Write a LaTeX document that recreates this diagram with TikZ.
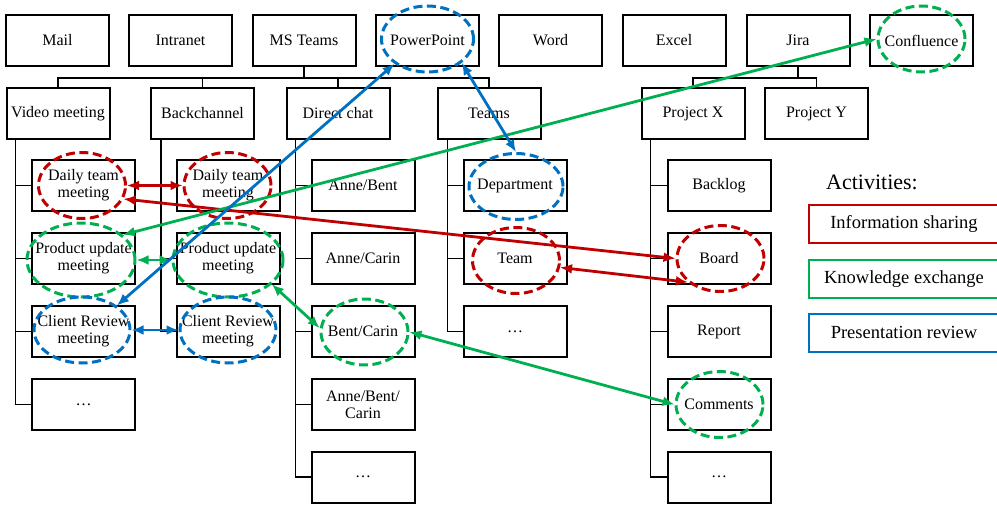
\documentclass[tikz,border=0pt]{standalone}
\usepackage{fontspec}
\setmainfont{Liberation Serif}
\usetikzlibrary{arrows.meta,shapes.geometric}
\definecolor{infored}{RGB}{192,0,0}
\definecolor{knowgreen}{RGB}{0,176,80}
\definecolor{presblue}{RGB}{0,112,192}
\tikzset{
  tool/.style={draw=black, line width=2pt, minimum width=103pt, minimum height=51pt,
    inner sep=1pt, align=center, font=\fontsize{16}{17}\selectfont},
  spot/.style={ellipse, draw=#1, dash pattern=on 9pt off 4.5pt, line width=3pt,
    minimum width=87pt, minimum height=66pt, inner sep=0pt},
  link/.style={draw=#1, line width=2.8pt,
    {Latex[length=12pt,width=10pt]}-{Latex[length=12pt,width=10pt]}},
  branch/.style={line width=1.5pt},
  actbox/.style={draw=#1, line width=2pt, minimum width=190pt, minimum height=38pt,
    font=\fontsize{18.5}{20}\selectfont},
}
\begin{document}
\begin{tikzpicture}[x=1pt,y=-1pt]
\useasboundingbox (0,0) rectangle (997,506);
% tools
\node[tool] (mail) at (57.5,40.5) {Mail};
\node[tool] (intranet) at (180.5,40.5) {Intranet};
\node[tool] (msteams) at (304,40.5) {MS Teams};
\node[tool] (ppt) at (427.5,40.5) {PowerPoint};
\node[tool] (word) at (550.5,40.5) {Word};
\node[tool] (excel) at (674,40.5) {Excel};
\node[tool] (jira) at (798,40.5) {Jira};
\node[tool] (confl) at (921.5,40.5) {Confluence};
% channels
\node[tool] (video) at (58,113.5) {Video meeting};
\node[tool] (back) at (202.5,113.5) {Backchannel};
\node[tool] (direct) at (338,113.5) {Direct chat};
\node[tool] (teams) at (489,113.5) {Teams};
\node[tool] (projx) at (693,113.5) {Project X};
\node[tool] (projy) at (816.5,113.5) {Project Y};
% video meeting
\node[tool] (vdaily) at (83.5,185.5) {Daily team\\meeting};
\node[tool] (vprod) at (83.5,258.5) {Product update\\meeting};
\node[tool] (vclient) at (83.5,331.5) {Client Review\\meeting};
\node[tool] (vmore) at (83.5,404.5) {\ldots};
% backchannel
\node[tool] (bdaily) at (228,185.5) {Daily team\\meeting};
\node[tool] (bprod) at (228,258.5) {Product update\\meeting};
\node[tool] (bclient) at (228,331.5) {Client Review\\meeting};
% direct chat
\node[tool] (ab) at (363,185.5) {Anne/Bent};
\node[tool] (ac) at (363,258.5) {Anne/Carin};
\node[tool] (bc) at (363,331.5) {Bent/Carin};
\node[tool] (abc) at (363,404.5) {Anne/Bent/\\Carin};
\node[tool] (dmore) at (363,477) {\ldots};
% teams
\node[tool] (dept) at (515,185.5) {Department};
\node[tool] (team) at (515,258.5) {Team};
\node[tool] (tmore) at (515,331.5) {\ldots};
% project x
\node[tool] (backlog) at (719,185.5) {Backlog};
\node[tool] (board) at (719,258.5) {Board};
\node[tool] (report) at (719,331.5) {Report};
\node[tool] (comments) at (719,404.5) {Comments};
\node[tool] (xmore) at (719,477) {\ldots};
% hierarchy
\draw[branch] (msteams.south) -- +(0,11) -| (video.north)
    (msteams.south) -- +(0,11) -| (back.north)
    (msteams.south) -- +(0,11) -| (direct.north)
    (msteams.south) -- +(0,11) -| (teams.north);
\draw[branch] (jira.south) -- +(0,11) -| (projx.north)
    (jira.south) -- +(0,11) -| (projy.north);
\draw[branch] ([xshift=10pt]video.south west) |- (vdaily.west)
    ([xshift=10pt]video.south west) |- (vprod.west)
    ([xshift=10pt]video.south west) |- (vclient.west)
    ([xshift=10pt]video.south west) |- (vmore.west);
\draw[branch] ([xshift=11pt]back.south west) |- (bdaily.west)
    ([xshift=11pt]back.south west) |- (bprod.west)
    ([xshift=11pt]back.south west) |- (bclient.west);
\draw[branch] ([xshift=10pt]direct.south west) |- (ab.west)
    ([xshift=10pt]direct.south west) |- (ac.west)
    ([xshift=10pt]direct.south west) |- (bc.west)
    ([xshift=10pt]direct.south west) |- (abc.west)
    ([xshift=10pt]direct.south west) |- (dmore.west);
\draw[branch] ([xshift=11pt]teams.south west) |- (dept.west)
    ([xshift=11pt]teams.south west) |- (team.west)
    ([xshift=11pt]teams.south west) |- (tmore.west);
\draw[branch] ([xshift=10pt]projx.south west) |- (backlog.west)
    ([xshift=10pt]projx.south west) |- (board.west)
    ([xshift=10pt]projx.south west) |- (report.west)
    ([xshift=10pt]projx.south west) |- (comments.west)
    ([xshift=10pt]projx.south west) |- (xmore.west);
% activity marks
\node[spot=presblue, minimum width=92pt] (s-ppt) at (427.5,39) {};
\node[spot=knowgreen] (s-confl) at (921.5,39) {};
\node[spot=infored] (s-vdaily) at (82,185.5) {};
\node[spot=infored] (s-bdaily) at (227.5,185.5) {};
\node[spot=knowgreen, minimum width=108pt, minimum height=74pt] (s-vprod) at (81,260) {};
\node[spot=knowgreen, minimum width=110pt, minimum height=74pt] (s-bprod) at (228,260) {};
\node[spot=presblue, minimum width=96pt] (s-vclient) at (82,330) {};
\node[spot=presblue, minimum width=96pt] (s-bclient) at (228,330) {};
\node[spot=presblue, minimum width=94pt] (s-dept) at (516,186.5) {};
\node[spot=infored] (s-team) at (516,260.5) {};
\node[spot=knowgreen] (s-bc) at (364.5,332) {};
\node[spot=infored] (s-board) at (720.5,258.5) {};
\node[spot=knowgreen] (s-comments) at (719.5,404.5) {};
% links
\draw[link=infored] (s-vdaily.east) -- (s-bdaily.west);
\draw[link=infored] (s-vdaily.-18) -- (s-board.180);
\draw[link=infored] (s-team.-9) -- (s-board.216);
\draw[link=knowgreen] (s-vprod.31) -- (s-confl.180);
\draw[link=knowgreen] (s-vprod.east) -- (s-bprod.west);
\draw[link=knowgreen] (s-bprod.-29) -- (s-bc.175);
\draw[link=knowgreen] (s-bc.east) -- (s-comments.west);
\draw[link=presblue] (s-ppt.217) -- (s-vclient.35);
\draw[link=presblue] (s-ppt.-35) -- (s-dept.north);
\draw[link=presblue] (s-vclient.east) -- (s-bclient.west);
% legend
\node[font=\fontsize{22}{24}\selectfont] (acts) at (872,182) {Activities:};
\node[actbox=infored] (lg-info) at (904,224) {Information sharing};
\node[actbox=knowgreen] (lg-know) at (904,279) {Knowledge exchange};
\node[actbox=presblue] (lg-pres) at (904,332.5) {Presentation review};
\end{tikzpicture}
\end{document}
